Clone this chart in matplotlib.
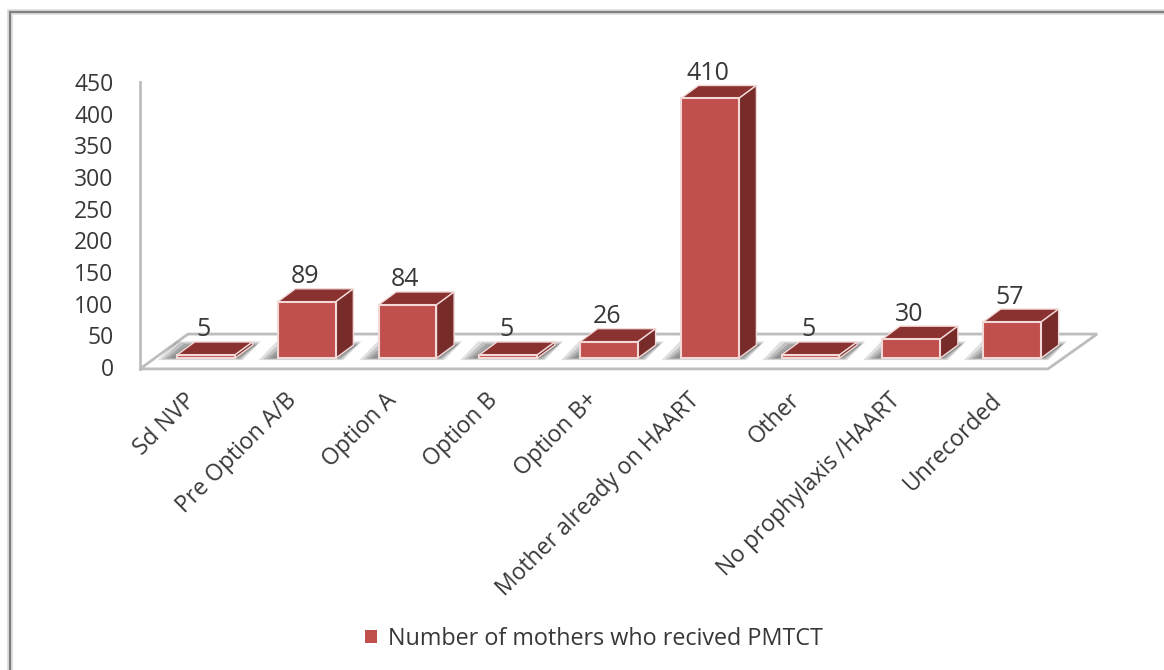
# imports
import numpy as np
import matplotlib
matplotlib.use('Agg')
import matplotlib.pyplot as plt
from matplotlib.patches import Polygon, Rectangle

# data
categories = ['Sd NVP', 'Pre Option A/B', 'Option A', 'Option B', 'Option B+',
              'Mother already on HAART', 'Other', 'No prophylaxis /HAART', 'Unrecorded']
values = [5, 89, 84, 5, 26, 410, 5, 30, 57]
y_ticks = [0, 50, 100, 150, 200, 250, 300, 350, 400, 450]
series_name = 'Number of mothers who recived PMTCT'

# colours
front_kleur = '#C0504D'
top_kleur = '#8A3230'
side_kleur = '#772C2A'
rand_kleur = '#F2D9D8'
floor_kleur = '#BDBDBD'
tekst_kleur = '#383838'

# 3d look, in axis units
lift = 14       # bar base above the y axis zero
depth_x = 0.175
depth_y = 20.5
breedte = 0.575

plt.rcParams['font.family'] = ['Open Sans', 'DejaVu Sans']

fig = plt.figure(figsize=(11.64, 6.70), dpi=100)
ax = fig.add_axes([140 / 1164, 1 - 372 / 670, 960 / 1164, 290 / 670])
ax.patch.set_alpha(0)
ax.set_xlim(-0.655, 8.873)
ax.set_ylim(-7.9, 450)

# outer frame
fig.add_artist(Rectangle((10 / 1164, -0.1), 1.2, 1.1 - 12 / 670, transform=fig.transFigure,
                         fill=False, edgecolor='#D8D8D8', linewidth=4))
fig.add_artist(Rectangle((10 / 1164, -0.1), 1.2, 1.1 - 12 / 670, transform=fig.transFigure,
                         fill=False, edgecolor='#7F7F7F', linewidth=1.5))

x = np.arange(len(values))

# floor
floor = [(-0.655, -3), (8.357, -3), (8.844, 52), (-0.179, 52)]
ax.add_patch(Polygon(floor, closed=True, facecolor='white', edgecolor=floor_kleur,
                     linewidth=2, zorder=1, clip_on=False))

# shadow on the floor, layered for a soft edge
for i in x:
    for grow, rand, alpha in zip([0.19, 0.15, 0.11, 0.07], [3, 2, 1, 0], [0.2, 0.25, 0.3, 0.35]):
        links = i - breedte / 2 - grow
        rechts = i + breedte / 2 + grow * 0.4
        onder = lift - rand
        boven = lift + depth_y + 6 - 2 * (3 - rand)
        ax.add_patch(Polygon([(links, onder), (rechts, onder),
                              (rechts + 0.18, boven), (links + 0.18, boven)],
                             closed=True, facecolor='#666666', edgecolor='none',
                             alpha=alpha, zorder=2))

# bars, top and side faces
ax.bar(x, values, width=breedte, bottom=lift, color=front_kleur, edgecolor=rand_kleur,
       linewidth=1.5, zorder=4, label=series_name)
for i, v in zip(x, values):
    links = i - breedte / 2
    rechts = i + breedte / 2
    top = lift + v
    ax.add_patch(Polygon([(links, top), (rechts, top), (rechts + depth_x, top + depth_y),
                          (links + depth_x, top + depth_y)], closed=True,
                         facecolor=top_kleur, edgecolor=rand_kleur, linewidth=1, zorder=3))
    ax.add_patch(Polygon([(rechts, lift), (rechts + depth_x, lift + depth_y),
                          (rechts + depth_x, top + depth_y), (rechts, top)], closed=True,
                         facecolor=side_kleur, edgecolor=rand_kleur, linewidth=1, zorder=3))
    ax.text(i - 0.02, top + depth_y + 19, str(v), ha='center', va='center',
            fontsize=18, color=tekst_kleur, zorder=5)

# axes
for s in ['top', 'right', 'bottom']:
    ax.spines[s].set_visible(False)
ax.spines['left'].set_color(floor_kleur)
ax.spines['left'].set_linewidth(2)
ax.spines['left'].set_bounds(-3, 450)

ax.set_yticks(y_ticks)
ax.set_xticks(x - 0.14)
ax.set_xticklabels(categories, rotation=45, ha='right', va='center', rotation_mode='anchor')
ax.tick_params(axis='y', length=0, pad=19, labelsize=16.5, labelcolor=tekst_kleur)
ax.tick_params(axis='x', length=0, pad=18, labelsize=16.5, labelcolor=tekst_kleur)

leg = fig.legend(loc='center', bbox_to_anchor=(594 / 1164, 1 - 639 / 670), frameon=False,
                 fontsize=16.8, labelcolor=tekst_kleur, handlelength=0.5, handleheight=0.5,
                 handletextpad=0.5)
leg.legend_handles[0].set_edgecolor('none')

plt.savefig('out.png', dpi=100)
